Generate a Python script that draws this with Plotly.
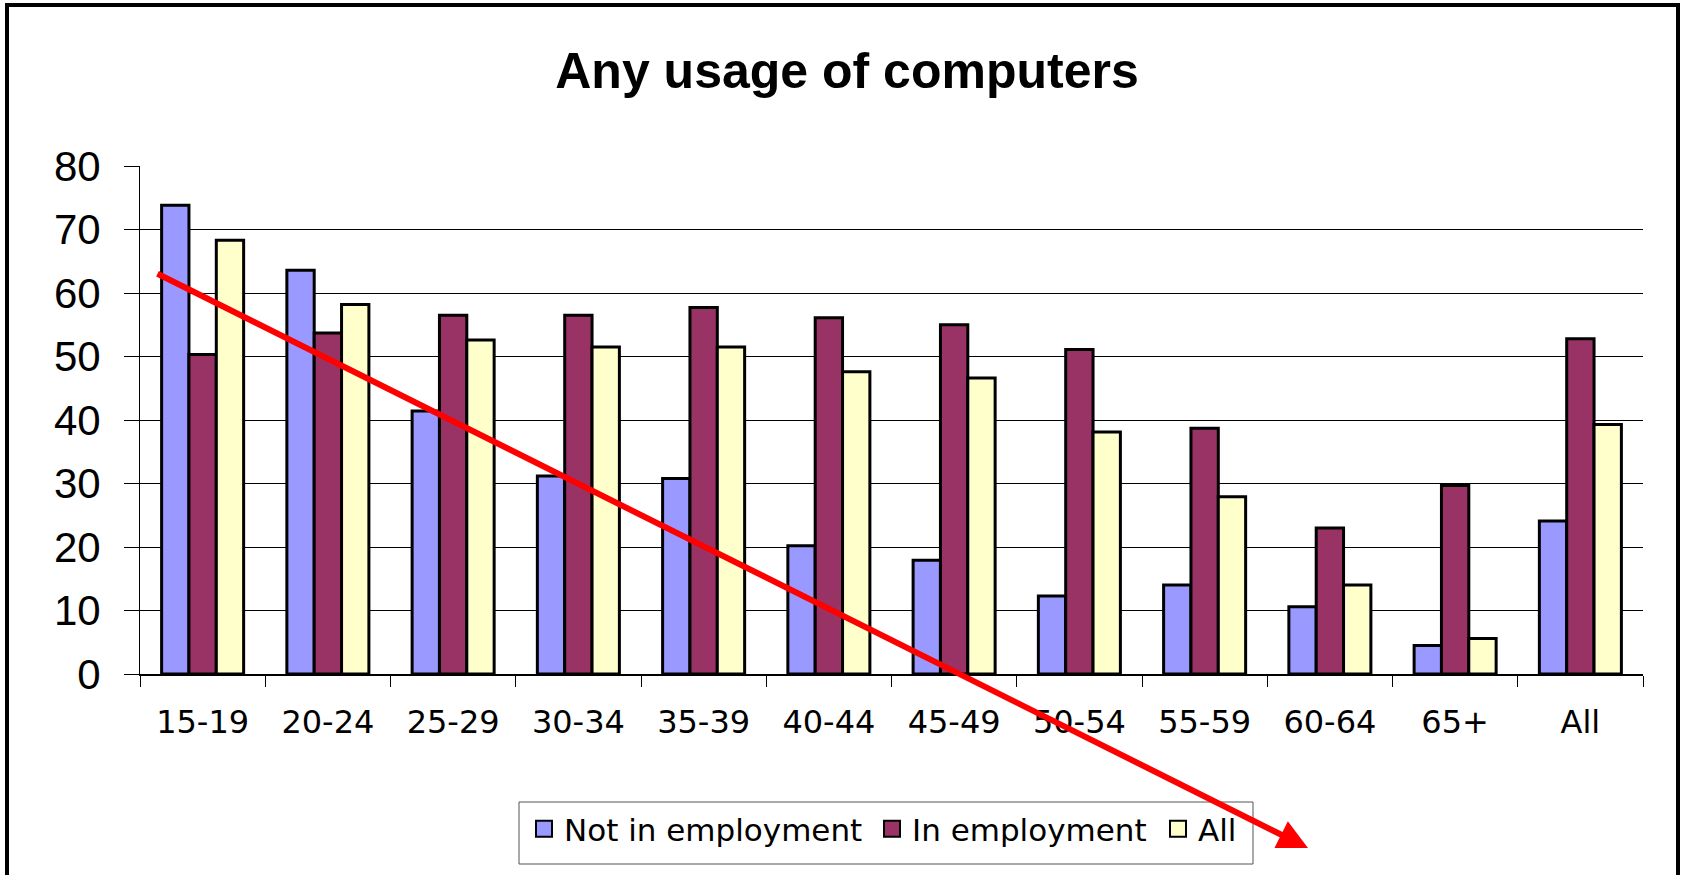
import plotly.graph_objects as go

# Age bands and the share (%) using a computer, by employment status
age_groups = ["15-19", "20-24", "25-29", "30-34", "35-39", "40-44",
              "45-49", "50-54", "55-59", "60-64", "65+", "All"]
not_in_employment = [73.8, 63.6, 41.4, 31.2, 30.8, 20.2, 17.9, 12.3, 14.0, 10.6, 4.5, 24.1]
in_employment = [50.3, 53.7, 56.5, 56.5, 57.7, 56.1, 55.0, 51.1, 38.7, 23.0, 29.7, 52.8]
all_people = [68.3, 58.2, 52.6, 51.5, 51.5, 47.6, 46.6, 38.1, 27.9, 14.0, 5.6, 39.3]

y_ticks = [0, 10, 20, 30, 40, 50, 60, 70, 80]

# Page geometry (pixels)
W, H = 1684, 875
M_L, M_R, M_T, M_B = 140, 41, 166, 201
PLOT_W = W - M_L - M_R
PLOT_H = H - M_T - M_B


def px_x(x):
    """Convert a page x pixel to paper coordinates."""
    return (x - M_L) / PLOT_W


def px_y(y):
    """Convert a page y pixel (from top) to paper coordinates."""
    return (H - M_B - y) / PLOT_H


# name, values, fill colour, legend id, legend left edge (page px)
series = [
    ("Not in employment", not_in_employment, "#9999FF", "legend", 524),
    ("In employment", in_employment, "#993366", "legend2", 872),
    ("All", all_people, "#FFFFCC", "legend3", 1158),
]

fig = go.Figure()
for name, values, color, legend_id, _ in series:
    fig.add_trace(go.Bar(
        x=age_groups, y=values, name=name,
        legendgroup=name, showlegend=False,
        marker=dict(color=color, line=dict(color="black", width=3)),
    ))
    # Legend entry with a larger square swatch, tied to the bars by legendgroup
    fig.add_trace(go.Scatter(
        x=[None], y=[None], mode="markers", name=name,
        legendgroup=name, legend=legend_id, showlegend=True,
        marker=dict(symbol="square", size=16, color=color,
                    line=dict(color="black", width=2)),
        hoverinfo="skip",
    ))

legend_font = dict(family="DejaVu Sans", size=31, color="black")
legend_common = dict(
    orientation="h", xanchor="left", xref="paper",
    y=px_y(802), yanchor="top", yref="paper",
    borderwidth=0, bgcolor="rgba(0,0,0,0)",
    font=legend_font, itemwidth=30,
)

fig.update_layout(
    width=W, height=H,
    margin=dict(l=M_L, r=M_R, t=M_T, b=M_B),
    paper_bgcolor="white", plot_bgcolor="white",
    barmode="group", bargap=0.345, bargroupgap=0,
    title=dict(
        text="<b>Any usage of computers</b>",
        x=847 / W, xanchor="center", xref="container",
        y=1 - 70 / H, yanchor="middle", yref="container",
        font=dict(family="Liberation Sans, Arial, sans-serif", size=50, color="black"),
    ),
    xaxis=dict(
        type="category",
        showline=True, linecolor="black", linewidth=1.5,
        ticks="outside", tickson="boundaries", ticklen=11, tickcolor="black", tickwidth=1,
        tickfont=dict(family="DejaVu Sans", size=32, color="black"),
        ticklabelstandoff=19,
        showgrid=False,
    ),
    yaxis=dict(
        range=[0, 80], tickvals=y_ticks,
        showline=True, linecolor="black", linewidth=1,
        ticks="outside", ticklen=15, tickcolor="black", tickwidth=1,
        tickfont=dict(family="Liberation Sans, Arial, sans-serif", size=42, color="black"),
        ticklabelstandoff=15,
        showgrid=True, gridcolor="black", gridwidth=1,
        zeroline=False,
    ),
    legend=dict(x=px_x(series[0][4]), **legend_common),
    legend2=dict(x=px_x(series[1][4]), **legend_common),
    legend3=dict(x=px_x(series[2][4]), **legend_common),
    showlegend=True,
)

# Box framing the three legend entries
fig.add_shape(
    type="rect", xref="paper", yref="paper",
    x0=px_x(519), x1=px_x(1253), y0=px_y(864), y1=px_y(802),
    line=dict(color="#555555", width=1), fillcolor="rgba(0,0,0,0)",
    layer="below",
)

# Outer frame around the whole chart
fig.add_shape(
    type="rect", xref="paper", yref="paper",
    x0=px_x(7), x1=px_x(1678), y0=px_y(885), y1=px_y(5),
    line=dict(color="black", width=4), fillcolor="rgba(0,0,0,0)",
    layer="above",
)

# Red downward trend arrow drawn across the chart
tip_x, tip_y = 1308, 848
tail_x, tail_y = 156, 273
fig.add_annotation(
    x=px_x(tip_x), y=px_y(tip_y), xref="paper", yref="paper",
    ax=tail_x - tip_x, ay=tail_y - tip_y, axref="pixel", ayref="pixel",
    text="", showarrow=True,
    arrowcolor="#FF0000", arrowwidth=6, arrowhead=2, arrowsize=1.0,
    standoff=0, startstandoff=0,
)

fig.write_html("out.html")
